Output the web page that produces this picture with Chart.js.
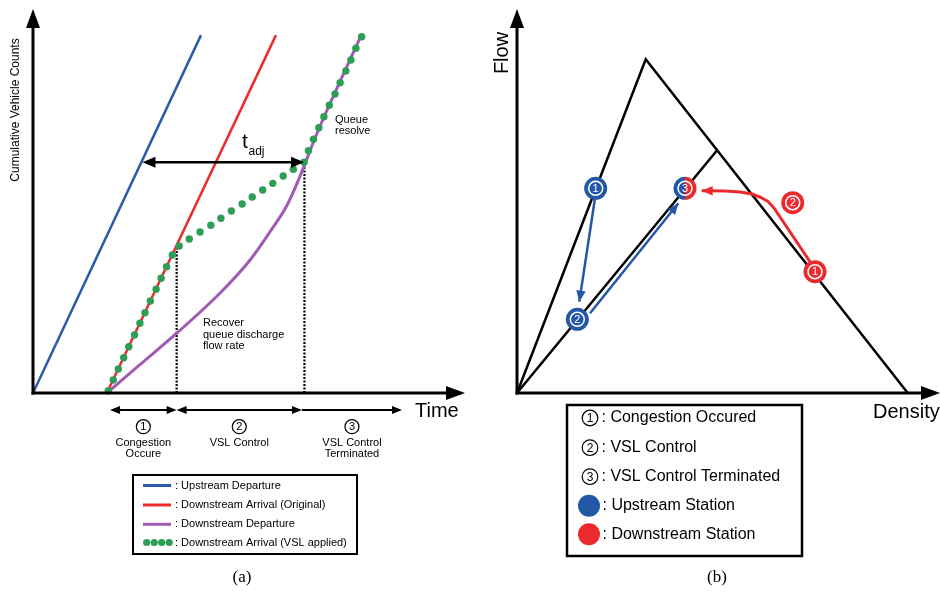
<!DOCTYPE html>
<html><head><meta charset="utf-8">
<script src="https://cdn.jsdelivr.net/npm/chart.js@4.4.1/dist/chart.umd.min.js"></script>
<style>html,body{margin:0;padding:0;background:#fff}#wrap{position:relative;width:940px;height:597px;overflow:hidden;background:#fff}canvas{position:absolute;top:0}</style>
</head><body><div id="wrap"><canvas id="ca" width="470" height="597" style="left:0"></canvas><canvas id="cb" width="470" height="597" style="left:470px"></canvas></div>
<script>
// ---------- Panel (a) data: time (x) vs cumulative counts (y) ----------
const blueT = [0, 4.667], blueC = [0, 93.2];
const redT = [2.05, 6.75], redC = [0, 93.2];
const purpleT = [2.05, 2.97, 4.0, 5.19, 6.03, 6.58, 7.06, 7.42, 7.79, 8.06, 9.11];
const purpleC = [0, 7.37, 15.63, 25.96, 34.64, 41.93, 48.96, 56.51, 65.36, 71.35, 92.97];
const greenT = [2.09,2.23,2.37,2.52,2.66,2.82,2.97,3.11,3.26,3.42,3.56,3.71,3.87,4.06,
  4.34,4.64,4.94,5.22,5.51,5.81,6.09,6.38,6.66,6.95,7.23,7.53,
  7.65,7.79,7.94,8.08,8.23,8.39,8.53,8.69,8.83,8.97,9.13];
const greenC = [0.6,3.39,6.25,9.19,12.06,15.1,18.15,20.9,23.96,27.0,29.87,32.9,35.94,38.28,
  40.1,41.93,43.67,45.5,47.4,49.2,51.04,52.86,54.6,56.5,58.26,60.08,
  63.1,66.07,69.09,71.95,74.92,77.86,80.81,83.85,86.72,89.77,92.79];
const dottedT = [3.99, 7.54], dottedTop = [38.3, 60.1];
const tadjT = [3.04, 7.53], tadjC = 60.08;
const phaseArrowT = [2.14, 3.99, 7.47, 10.25];
const phaseNums = ['1', '2', '3'];
const phaseLabels = [['Congestion', 'Occure'], ['VSL Control'], ['VSL Control', 'Terminated']];
const legendATexts = [': Upstream Departure', ': Downstream Arrival (Original)', ': Downstream Departure', ': Downstream Arrival (VSL applied)'];

// ---------- Panel (b) data: density (x) vs flow (y) ----------
const triK = [0, 30.43, 92.37], triQ = [0, 86.9, 0];
const innerK = [0, 47.21], innerQ = [0, 63.1];
const blueStK = [18.6, 14.26], blueStQ = [53.3, 19.19], blueStNum = ['1', '2'];
const redStK = [70.45], redStQ = [31.6], redStNum = ['1'];
const mixStK = [39.72], mixStQ = [53.3], mixStNum = ['3'];
const redTagK = [65.18], redTagQ = [49.56], redTagNum = ['2'];
const blueArrow1K = [18.44, 14.73], blueArrow1Q = [50.7, 23.78];
const blueArrow2K = [17.26, 38.13], blueArrow2Q = [20.76, 49.4];
const redPathK = [69.27, 60.76, 59.34, 57.68, 55.56, 52.72, 49.17, 45.15, 43.66];
const redPathQ = [34.19, 48.18, 49.87, 50.91, 51.82, 52.34, 52.6, 52.68, 52.68];
const legendBTexts = [': Congestion Occured', ': VSL Control', ': VSL Control Terminated', ': Upstream Station', ': Downstream Station'];

const BLUE = '#2a5ba8', RED = '#ee2b2b', PURPLE = '#a15bb5', GREEN = '#2e9d55';
const ST_BLUE = '#2358a6', ST_RED = '#ec2a2e';
const FONT = '"Liberation Sans", Arial, Helvetica, sans-serif';

const pts = (xs, ys) => xs.map((x, i) => ({x, y: ys[i]}));

function head(ctx, fx, fy, tx, ty, len, hw, color) {
  const a = Math.atan2(ty - fy, tx - fx);
  const bx = tx - len * Math.cos(a), by = ty - len * Math.sin(a);
  ctx.save(); ctx.fillStyle = color; ctx.beginPath();
  ctx.moveTo(tx, ty);
  ctx.lineTo(bx + hw * Math.sin(a), by - hw * Math.cos(a));
  ctx.lineTo(bx - hw * Math.sin(a), by + hw * Math.cos(a));
  ctx.closePath(); ctx.fill(); ctx.restore();
}
function arrowLine(ctx, x1, y1, x2, y2, lw, color, len, hw, sHead, eHead) {
  const a = Math.atan2(y2 - y1, x2 - x1);
  let sx = x1, sy = y1, ex = x2, ey = y2;
  if (sHead) { sx += Math.cos(a) * len * 0.7; sy += Math.sin(a) * len * 0.7; }
  if (eHead) { ex -= Math.cos(a) * len * 0.7; ey -= Math.sin(a) * len * 0.7; }
  ctx.save(); ctx.strokeStyle = color; ctx.lineWidth = lw; ctx.beginPath();
  ctx.moveTo(sx, sy); ctx.lineTo(ex, ey); ctx.stroke(); ctx.restore();
  if (sHead) head(ctx, x2, y2, x1, y1, len, hw, color);
  if (eHead) head(ctx, x1, y1, x2, y2, len, hw, color);
}
function circNum(ctx, x, y, r, d, color, lw, fs) {
  ctx.save(); ctx.strokeStyle = color; ctx.lineWidth = lw; ctx.beginPath();
  ctx.arc(x, y, r, 0, 2 * Math.PI); ctx.stroke();
  ctx.fillStyle = color; ctx.font = fs + 'px ' + FONT; ctx.textAlign = 'center'; ctx.textBaseline = 'middle';
  ctx.fillText(d, x, y + 0.7); ctx.restore();
}
function text(ctx, s, x, y, fs, align, color, fam) {
  ctx.save(); ctx.fillStyle = color || '#000'; ctx.font = fs + 'px ' + (fam || FONT);
  ctx.textAlign = align || 'left'; ctx.textBaseline = 'middle'; ctx.fillText(s, x, y); ctx.restore();
}
function axes(ctx, chart) {
  const xs = chart.scales.x, ys = chart.scales.y, ca = chart.chartArea;
  const x0 = xs.getPixelForValue(0), y0 = ys.getPixelForValue(0);
  ctx.save(); ctx.strokeStyle = '#000'; ctx.lineWidth = 3;
  ctx.beginPath(); ctx.moveTo(x0, y0 + 1.5); ctx.lineTo(x0, ca.top + 15); ctx.stroke();
  ctx.beginPath(); ctx.moveTo(x0 - 1.5, y0); ctx.lineTo(ca.right - 15, y0); ctx.stroke();
  ctx.restore();
  head(ctx, x0, y0, x0, ca.top, 19, 7, '#000');
  head(ctx, x0, y0, ca.right, y0, 19, 7, '#000');
}

const common = {
  responsive: false, animation: false, devicePixelRatio: 1, events: [],
  plugins: {legend: {display: false}, tooltip: {enabled: false}, title: {display: false}}
};

// ---------------- Chart (a) ----------------
const plugA = {
  id: 'plugA',
  afterDraw(chart) {
    const ctx = chart.ctx, xs = chart.scales.x, ys = chart.scales.y;
    const px = v => xs.getPixelForValue(v), py = v => ys.getPixelForValue(v);
    axes(ctx, chart);
    arrowLine(ctx, px(tadjT[0]), py(tadjC), px(tadjT[1]), py(tadjC), 2.5, '#000', 13, 5.5, true, true);
    text(ctx, 't', 242, 142, 21);
    text(ctx, 'adj', 248.5, 152, 12);
    text(ctx, 'Queue', 335, 120, 11); text(ctx, 'resolve', 335, 131, 11);
    text(ctx, 'Recover', 203, 323, 11); text(ctx, 'queue discharge', 203, 334.5, 11); text(ctx, 'flow rate', 203, 346, 11);
    ctx.save(); ctx.translate(16, 110); ctx.rotate(-Math.PI / 2);
    text(ctx, 'Cumulative Vehicle Counts', 0, 0, 12, 'center'); ctx.restore();
    text(ctx, 'Time', 415, 411, 20);
    const ay = py(0) + 17;
    for (let i = 0; i < 3; i++) {
      const a = px(phaseArrowT[i]), b = px(phaseArrowT[i + 1]);
      arrowLine(ctx, a, ay, b, ay, 2, '#000', 10, 4, i < 2, true);
      const cx = (a + b) / 2;
      circNum(ctx, cx, 426.7, 7, phaseNums[i], '#000', 1.2, 11);
      phaseLabels[i].forEach((s, j) => text(ctx, s, cx, 442.5 + j * 11.5, 11, 'center'));
    }
    ctx.save(); ctx.strokeStyle = '#000'; ctx.lineWidth = 2; ctx.strokeRect(133, 475, 224, 79); ctx.restore();
    const rows = [485.5, 505, 524.3, 542.5];
    const cols = [BLUE, RED, PURPLE];
    for (let i = 0; i < 4; i++) {
      if (i < 3) {
        ctx.save(); ctx.strokeStyle = cols[i]; ctx.lineWidth = 3; ctx.beginPath();
        ctx.moveTo(143, rows[i]); ctx.lineTo(171, rows[i]); ctx.stroke(); ctx.restore();
      } else {
        ctx.save(); ctx.fillStyle = GREEN;
        [146.7, 154.2, 161.7, 169.2].forEach(x => { ctx.beginPath(); ctx.arc(x, rows[i], 3.6, 0, 2 * Math.PI); ctx.fill(); });
        ctx.restore();
      }
      text(ctx, legendATexts[i], 175, rows[i], 11);
    }
    text(ctx, '(a)', 242, 578, 17, 'center', '#000', '"Liberation Serif", "Times New Roman", serif');
  }
};

new Chart(document.getElementById('ca'), {
  type: 'scatter',
  data: {datasets: [
    {data: pts(greenT, greenC), showLine: false, pointRadius: 3.7, pointBackgroundColor: GREEN, pointBorderWidth: 0, order: 0},
    {data: pts(purpleT, purpleC), showLine: true, borderColor: PURPLE, borderWidth: 3, pointRadius: 0, cubicInterpolationMode: 'monotone', order: 1},
    {data: pts(redT, redC), showLine: true, borderColor: RED, borderWidth: 2.5, pointRadius: 0, order: 2},
    {data: pts(blueT, blueC), showLine: true, borderColor: BLUE, borderWidth: 2.5, pointRadius: 0, order: 3},
    {data: [{x: dottedT[0], y: 0}, {x: dottedT[0], y: dottedTop[0]}], showLine: true, borderColor: '#000', borderWidth: 2.2, borderDash: [2, 1.5], pointRadius: 0, order: 4},
    {data: [{x: dottedT[1], y: 0}, {x: dottedT[1], y: dottedTop[1]}], showLine: true, borderColor: '#000', borderWidth: 2.2, borderDash: [2, 1.5], pointRadius: 0, order: 4}
  ]},
  options: Object.assign({}, common, {
    layout: {autoPadding: false, padding: {left: 33, right: 5, top: 9, bottom: 204}},
    scales: {x: {type: 'linear', display: false, min: 0, max: 12}, y: {type: 'linear', display: false, min: 0, max: 100}},
    clip: false
  }),
  plugins: [plugA]
});

// ---------------- Chart (b) ----------------
const plugB = {
  id: 'plugB',
  afterDatasetsDraw(chart) {
    const ctx = chart.ctx, xs = chart.scales.x, ys = chart.scales.y;
    const px = v => xs.getPixelForValue(v), py = v => ys.getPixelForValue(v);
    const lastHead = (K, Q, color) => {
      const n = K.length;
      head(ctx, px(K[n - 2]), py(Q[n - 2]), px(K[n - 1]), py(Q[n - 1]), 11, 4.8, color);
    };
    lastHead(blueArrow1K, blueArrow1Q, ST_BLUE);
    lastHead(blueArrow2K, blueArrow2Q, ST_BLUE);
    lastHead(redPathK, redPathQ, ST_RED);
    mixStK.forEach((k, i) => {
      const x = px(k), y = py(mixStQ[i]);
      ctx.save();
      ctx.fillStyle = ST_BLUE; ctx.beginPath(); ctx.arc(x, y, 11.5, Math.PI / 2, 3 * Math.PI / 2); ctx.closePath(); ctx.fill();
      ctx.fillStyle = ST_RED; ctx.beginPath(); ctx.arc(x, y, 11.5, -Math.PI / 2, Math.PI / 2); ctx.closePath(); ctx.fill();
      ctx.restore();
      circNum(ctx, x, y, 7, mixStNum[i], '#fff', 1.5, 11);
    });
    blueStK.forEach((k, i) => circNum(ctx, px(k), py(blueStQ[i]), 7, blueStNum[i], '#fff', 1.5, 11));
    redStK.forEach((k, i) => circNum(ctx, px(k), py(redStQ[i]), 7, redStNum[i], '#fff', 1.5, 11));
    redTagK.forEach((k, i) => circNum(ctx, px(k), py(redTagQ[i]), 7, redTagNum[i], '#fff', 1.5, 11));
  },
  afterDraw(chart) {
    const ctx = chart.ctx;
    axes(ctx, chart);
    ctx.save(); ctx.translate(32, 53); ctx.rotate(-Math.PI / 2);
    text(ctx, 'Flow', 0, 0, 20, 'center'); ctx.restore();
    text(ctx, 'Density', 403, 412, 20);
    ctx.save(); ctx.strokeStyle = '#000'; ctx.lineWidth = 2.5; ctx.strokeRect(97, 405, 235, 151); ctx.restore();
    const rows = [418, 447.7, 476.7, 505.7, 534.3];
    for (let i = 0; i < 5; i++) {
      if (i < 3) {
        circNum(ctx, 120, rows[i], 7.8, String(i + 1), '#000', 1.2, 12);
        text(ctx, legendBTexts[i], 131.5, rows[i], 16);
      } else {
        ctx.save(); ctx.fillStyle = i === 3 ? ST_BLUE : ST_RED; ctx.beginPath();
        ctx.arc(119, rows[i], 11, 0, 2 * Math.PI); ctx.fill(); ctx.restore();
        text(ctx, legendBTexts[i], 132.5, rows[i], 16);
      }
    }
    text(ctx, '(b)', 247, 578, 17, 'center', '#000', '"Liberation Serif", "Times New Roman", serif');
  }
};

new Chart(document.getElementById('cb'), {
  type: 'scatter',
  data: {datasets: [
    {data: pts(blueStK, blueStQ), showLine: false, pointRadius: 11.5, pointBackgroundColor: ST_BLUE, pointBorderWidth: 0, order: 0},
    {data: pts(redStK, redStQ), showLine: false, pointRadius: 11.5, pointBackgroundColor: ST_RED, pointBorderWidth: 0, order: 0},
    {data: pts(redTagK, redTagQ), showLine: false, pointRadius: 11.5, pointBackgroundColor: ST_RED, pointBorderWidth: 0, order: 0},
    {data: pts(blueArrow1K, blueArrow1Q), showLine: true, borderColor: ST_BLUE, borderWidth: 2.5, pointRadius: 0, order: 1},
    {data: pts(blueArrow2K, blueArrow2Q), showLine: true, borderColor: ST_BLUE, borderWidth: 2.5, pointRadius: 0, order: 1},
    {data: pts(redPathK, redPathQ), showLine: true, borderColor: ST_RED, borderWidth: 3, pointRadius: 0, order: 1, borderJoinStyle: 'round'},
    {data: pts(triK, triQ), showLine: true, borderColor: '#000', borderWidth: 2.5, pointRadius: 0, order: 2},
    {data: pts(innerK, innerQ), showLine: true, borderColor: '#000', borderWidth: 2.5, pointRadius: 0, order: 2}
  ]},
  options: Object.assign({}, common, {
    layout: {autoPadding: false, padding: {left: 47, right: 0, top: 9, bottom: 204}},
    scales: {x: {type: 'linear', display: false, min: 0, max: 100}, y: {type: 'linear', display: false, min: 0, max: 100}},
    clip: false
  }),
  plugins: [plugB]
});
</script></body></html>
